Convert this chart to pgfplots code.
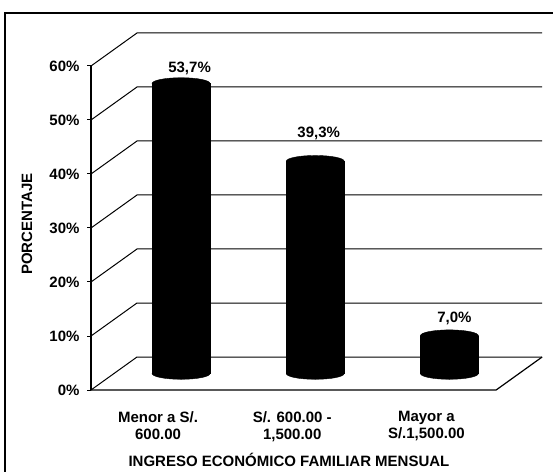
\documentclass[border=0pt]{standalone}
\usepackage{pgfplots}
\pgfplotsset{compat=1.18}
\pgfplotsset{/pgf/number format/assume math mode=true}
\usepackage{pgfplotstable}
\usepackage{fontspec}
\setmainfont{Liberation Sans}

\pgfplotstableread{
x y dy dx
0 53.7 15.5 8.5
1 39.3 28 3.5
2 7.0 17.7 5
}\bardata

\begin{document}
\begin{tikzpicture}
\useasboundingbox (0pt,0pt) rectangle (553pt,471pt);
\fill[white] (0pt,0pt) rectangle (553pt,471pt);
\draw[line width=1.3pt] (5pt,-2pt) -- (5pt,458pt) -- (556pt,458pt);

\begin{axis}[
  at={(91pt,81pt)}, anchor=south west,
  width=451pt, height=357pt, scale only axis,
  xmin=-0.5, xmax=2.862, ymin=0, ymax=66.11,
  axis lines*=left, axis line style={draw=none},
  clip=false,
  xtick={0,1,2},
  xticklabels={{Menor a S/.\\600.00},{S/. 600.00 -\\1,500.00},{Mayor a\\S/.1,500.00}},
  xtick style={draw=none},
  ytick={0,10,...,60},
  yticklabel={\pgfmathprintnumber{\tick}\%},
  /pgf/number format/assume math mode=true,
  ytick style={black, line width=1pt},
  major tick length=4pt, tick align=outside,
  tick label style={font=\fontsize{15}{18}\selectfont\bfseries},
  yticklabel style={xshift=-4pt},
  xticklabel style={align=center, font=\fontsize{15}{17}\selectfont\bfseries, yshift=-14pt},
  xlabel={INGRESO ECONÓMICO FAMILIAR MENSUAL},
  xlabel style={at={(axis description cs:0.439,-0.196)}, anchor=center, font=\fontsize{15}{18}\selectfont\bfseries},
  ylabel={PORCENTAJE},
  ylabel style={at={(axis description cs:-0.142,0.465)}, anchor=center, font=\fontsize{15}{18}\selectfont\bfseries},
]
\pgfplotsinvokeforeach{0,10,20,30,40,50,60}{
  \draw[line width=1pt, black] (axis cs:-0.5,#1) -- ++(46pt,33pt) -- ++(405pt,0pt);
}
\draw[line width=1.2pt, black] (axis cs:-0.5,0) -- (axis cs:2.52,0) -- ++(46pt,33pt);
\draw[line width=1.3pt, black] (axis cs:-0.5,0) -- (axis cs:-0.5,60);
\end{axis}

\begin{axis}[
  at={(91pt,81pt)}, anchor=south west,
  width=451pt, height=357pt, scale only axis,
  xmin=-0.6715, xmax=2.6905, ymin=-3.055, ymax=63.055,
  hide axis, clip=false,
  /pgf/number format/assume math mode=true,
]
\addplot[only marks, mark=*, mark size=29pt,
  mark options={yscale=0.2, fill=black, draw=black}]
  table[x=x, y expr=0] {\bardata};
\addplot[ybar, bar width=0.432, fill=black, draw=black]
  table[x=x, y=y] {\bardata};
\addplot[only marks, mark=*, mark size=29pt,
  mark options={yscale=0.2, fill=black, draw=black},
  point meta=y,
  visualization depends on={\thisrow{dy} \as \labdy},
  visualization depends on={\thisrow{dx} \as \labdx},
  nodes near coords={\pgfmathprintnumber[fixed,fixed zerofill,precision=1,use comma,assume math mode=true]{\pgfplotspointmeta}\%},
  every node near coord/.append style={anchor=center, yshift=\labdy pt, xshift=\labdx pt,
    font=\fontsize{15}{18}\selectfont\bfseries, black},
  ]
  table[x=x, y=y] {\bardata};
\end{axis}
\end{tikzpicture}
\end{document}
